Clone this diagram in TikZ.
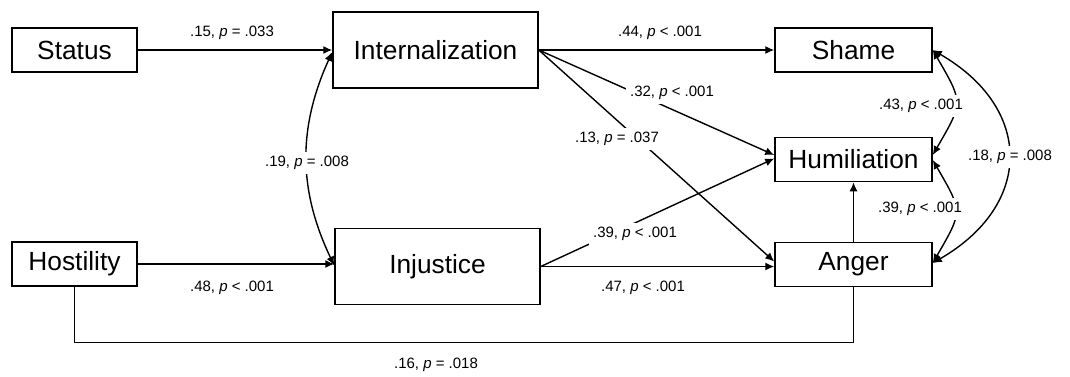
\documentclass[tikz,border=0pt]{standalone}
\usepackage{fontspec}
\setmainfont{Liberation Sans}
\usetikzlibrary{arrows.meta, positioning, calc}
\tikzstyle{var} = [rectangle, draw=black, line width=1.5pt, fill=white, align=center, inner sep=0pt, font=\fontsize{26.3}{30}\selectfont]
\tikzstyle{arrow} = [line width=1.4pt, -{Latex[length=9pt,width=8pt]}]

\begin{document}
\begin{tikzpicture}[x=1pt, y=-1pt,
    small/.style={var, minimum width=125pt, minimum height=44pt},
    big/.style={var, minimum width=205pt, minimum height=76pt},
    outcome/.style={var, minimum width=157pt, minimum height=44pt},
    coef/.style={fill=white, inner sep=4pt, font=\fontsize{15}{18}\selectfont},
    plain/.style={line width=1.4pt},
    twoway/.style={line width=1.4pt, {Latex[length=9pt,width=8pt]}-{Latex[length=9pt,width=8pt]}}
  ]
    \useasboundingbox (0,0) rectangle (1070,376);

    % Predictors, mediators and outcomes
    \node[small]   (Status)    at (74.5,50)    {Status};
    \node[small]   (Hostility) at (74.5,264)   {Hostility};
    \node[big]     (Intern)    at (435.5,50)   {Internalization};
    \node[big]     (Injustice) at (437.5,266.5) {Injustice};
    \node[outcome] (Shame)     at (853.5,50)   {Shame};
    \node[outcome] (Humil)     at (853.5,159.5) {Humiliation};
    \node[outcome] (Anger)     at (853.5,264.5) {Anger};

    % Direct paths
    \draw[arrow] (Status) -- (Intern);
    \draw[arrow] (Hostility.east) -- (Hostility.east -| Injustice.west);
    \draw[arrow] (Intern.east) -- (Shame.west);
    \draw[arrow] (Intern.east) -- ([yshift=4.5pt]Humil.west);
    \draw[arrow] (Intern.east) -- ([yshift=3pt]Anger.west);
    \draw[arrow] (Injustice.east) -- ([yshift=1pt]Humil.west);
    \draw[arrow] (Injustice.east) -- (Injustice.east -| Anger.west);
    \draw[plain] (Hostility.south) -- ++(0,56) -| (Anger.south);
    \draw[arrow] (Anger.north) -- (Humil.south);

    % Covariances (two-headed curves)
    \draw[twoway] ([yshift=-2pt]Intern.west) to[bend right=25] ([yshift=1pt]Injustice.west);
    \draw[twoway] (Shame.east) to[bend left=30, looseness=1.5] ([yshift=4.5pt]Humil.east);
    \draw[twoway] ([yshift=-0.5pt]Humil.east) to[bend left=30, looseness=1.5] ([yshift=1.5pt]Anger.east);
    \draw[twoway] (Shame.east) to[bend left=60, looseness=1.4] ([yshift=1.5pt]Anger.east);

    % Path coefficients
    \node[coef] (c1)  at (232,33)  {.15, \textit{p} = .033};
    \node[coef] (c2)  at (232,288) {.48, \textit{p} < .001};
    \node[coef] (c3)  at (660,33)  {.44, \textit{p} < .001};
    \node[coef] (c4)  at (672,93)  {.32, \textit{p} < .001};
    \node[coef] (c5)  at (617,139) {.13, \textit{p} = .037};
    \node[coef] (c6)  at (635,234) {.39, \textit{p} < .001};
    \node[coef] (c7)  at (643,288) {.47, \textit{p} < .001};
    \node[coef] (c8)  at (436,365) {.16, \textit{p} = .018};
    \node[coef] (c9)  at (307,163) {.19, \textit{p} = .008};
    \node[coef] (c10) at (921,106) {.43, \textit{p} < .001};
    \node[coef] (c11) at (920,209) {.39, \textit{p} < .001};
    \node[coef] (c12) at (1010,157) {.18, \textit{p} = .008};
\end{tikzpicture}
\end{document}
